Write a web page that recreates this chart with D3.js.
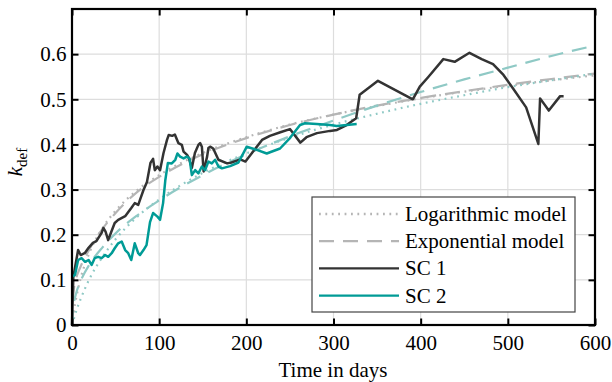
<!DOCTYPE html>
<html>
<head>
<meta charset="utf-8">
<script src="https://cdn.jsdelivr.net/npm/d3@7"></script>
<style>
  html, body { margin: 0; padding: 0; background: #fff; }
  svg { display: block; font-family: "Liberation Serif", "Times New Roman", serif; }
</style>
</head>
<body>
<svg id="chart" width="612" height="382"></svg>
<script>
// Measured creep factor k_def over time for two specimens (SC 1, SC 2)
const sc1Days = [0, 1.5, 7, 10, 15, 19, 24, 28, 34, 36, 38.5, 41.5, 45, 49, 53, 61, 68, 72, 76, 78,
  82, 86, 90, 93, 95, 98, 101, 105, 109, 111, 115, 118, 122, 126, 128, 132, 134, 137.5, 141, 145,
  147, 149, 151, 155, 156.5, 158.5, 162, 168, 178, 183, 189, 193, 199, 218, 227, 239, 250, 262, 269, 281,
  296, 304, 315, 326, 330, 351, 391, 399, 409, 426, 439, 456, 470, 483, 495, 506, 521, 535, 537, 547,
  560, 564];
const sc1Values = [0, 0.106, 0.166, 0.155, 0.16, 0.171, 0.182, 0.186, 0.204, 0.215,
  0.207, 0.188, 0.206, 0.226, 0.233, 0.241, 0.259, 0.27, 0.266, 0.277,
  0.299, 0.317, 0.359, 0.368, 0.343, 0.351, 0.343, 0.381, 0.41, 0.421,
  0.419, 0.422, 0.403, 0.399, 0.384, 0.377, 0.37, 0.348, 0.381, 0.399,
  0.403, 0.395, 0.34, 0.373, 0.392, 0.395, 0.391, 0.366, 0.358, 0.36,
  0.364, 0.367, 0.362, 0.41, 0.419, 0.427, 0.434, 0.404, 0.416, 0.425,
  0.43, 0.432, 0.443, 0.458, 0.51, 0.541, 0.5, 0.528, 0.55, 0.589,
  0.583, 0.603, 0.589, 0.578, 0.554, 0.524, 0.482, 0.401, 0.502, 0.475,
  0.507, 0.507];

const sc2Days = [0, 3.4, 7, 11, 15, 19, 22.5, 26, 30, 34,
  38, 41.5, 45.5, 49, 53, 57, 61, 64.5, 68, 72,
  76, 78, 82, 85.5, 89.5, 93, 98, 101, 104.5, 107, 110,
  114.5, 118.5, 121, 124, 128, 131.8, 134.8, 137.5, 141.3, 145,
  149, 152.7, 156.5, 160.4, 164.2, 168, 172, 181.4, 191, 200.5,
  212, 223.4, 238.7, 250, 261.6, 267.3, 280.7, 296, 303.7, 326.6];
const sc2Values = [0.107, 0.111, 0.144, 0.148, 0.14, 0.144, 0.133, 0.148, 0.151, 0.148,
  0.155, 0.151, 0.159, 0.17, 0.181, 0.185, 0.166, 0.159, 0.144, 0.181,
  0.159, 0.155, 0.166, 0.177, 0.228, 0.248, 0.24, 0.233, 0.27, 0.32, 0.359,
  0.358, 0.366, 0.38, 0.373, 0.369, 0.373, 0.369, 0.332, 0.343, 0.336,
  0.351, 0.343, 0.362, 0.358, 0.366, 0.351, 0.347, 0.352, 0.36, 0.395,
  0.388, 0.38, 0.391, 0.414, 0.443, 0.447, 0.445, 0.443, 0.441, 0.445];

// Fitted model curves, sampled at these days
const modelDays = [0, 1, 2, 5, 10, 20, 35, 50, 75, 100, 150, 200, 250, 300, 350, 400, 450, 500, 550, 600];
const logSc1 = [0, 0.015, 0.029, 0.062, 0.104, 0.16, 0.215, 0.253, 0.299, 0.332, 0.381, 0.416, 0.444, 0.466, 0.485, 0.502, 0.517, 0.53, 0.542, 0.553];
const expSc1 = [0, 0.06, 0.078, 0.105, 0.13, 0.168, 0.213, 0.248, 0.295, 0.328, 0.378, 0.414, 0.443, 0.466, 0.486, 0.503, 0.518, 0.532, 0.545, 0.557];
const logSc2 = [0, 0.007, 0.013, 0.032, 0.058, 0.102, 0.151, 0.19, 0.24, 0.278, 0.337, 0.38, 0.415, 0.444, 0.468, 0.49, 0.509, 0.527, 0.542, 0.557];
const expSc2 = [0, 0.035, 0.048, 0.072, 0.098, 0.134, 0.172, 0.203, 0.243, 0.276, 0.332, 0.378, 0.418, 0.453, 0.486, 0.516, 0.544, 0.57, 0.596, 0.619];

const xTicks = [0, 100, 200, 300, 400, 500, 600];
const yTicks = [0, 0.1, 0.2, 0.3, 0.4, 0.5, 0.6];
const legendLabels = ["Logarithmic model", "Exponential model", "SC 1", "SC 2"];

const C = {
  sc1: "#333333",
  sc2: "#009b96",
  gray: "#b5b5b5",
  tealLight: "#8fc9c5",
  grid: "#dddddd"
};
const FONT = 21;

const svg = d3.select("#chart");
const pLeft = 72, pRight = 595, pTop = 9, pBottom = 325;

const x = d3.scaleLinear().domain([0, 600]).range([pLeft, pRight]);
const y = d3.scaleLinear().domain([0, 0.7]).range([pBottom, pTop]);

// grid
const grid = svg.append("g");
grid.selectAll(".gx").data(xTicks.slice(1, -1)).enter().append("line")
  .attr("x1", d => x(d)).attr("x2", d => x(d)).attr("y1", pTop).attr("y2", pBottom)
  .attr("stroke", C.grid).attr("stroke-width", 1.2);
grid.selectAll(".gy").data(yTicks.slice(1)).enter().append("line")
  .attr("x1", pLeft).attr("x2", pRight).attr("y1", d => y(d)).attr("y2", d => y(d))
  .attr("stroke", C.grid).attr("stroke-width", 1.2);

const zip = (xs, ys) => xs.map((d, i) => [d, ys[i]]);
const smooth = d3.line().x(d => x(d[0])).y(d => y(d[1])).curve(d3.curveMonotoneX);
const straight = d3.line().x(d => x(d[0])).y(d => y(d[1]));

const plot = svg.append("g");
const DOT = "1.8,4.6", DASH = "15,9";

function drawLine(pts, gen, color, dash, width) {
  plot.append("path").attr("d", gen(pts)).attr("fill", "none")
    .attr("stroke", color).attr("stroke-width", width)
    .attr("stroke-dasharray", dash || null)
    .attr("stroke-linejoin", "round");
}

drawLine(zip(modelDays, logSc1), smooth, C.gray, DOT, 2.2);
drawLine(zip(modelDays, expSc1), smooth, C.gray, DASH, 2.2);
drawLine(zip(modelDays, logSc2), smooth, C.tealLight, DOT, 2.2);
drawLine(zip(modelDays, expSc2), smooth, C.tealLight, DASH, 2.2);
drawLine(zip(sc1Days, sc1Values), straight, C.sc1, null, 2.5);
drawLine(zip(sc2Days, sc2Values), straight, C.sc2, null, 2.5);

// axes with inward ticks on all four sides
const fmtY = d => d === 0 ? "0" : d3.format(".1f")(d);
const axB = svg.append("g").attr("transform", `translate(0,${pBottom})`)
  .call(d3.axisBottom(x).tickValues(xTicks).tickSizeInner(-6.5).tickSizeOuter(0).tickPadding(10.5));
const axT = svg.append("g").attr("transform", `translate(0,${pTop})`)
  .call(d3.axisTop(x).tickValues(xTicks).tickSizeInner(-6.5).tickSizeOuter(0).tickFormat(""));
const axL = svg.append("g").attr("transform", `translate(${pLeft},0)`)
  .call(d3.axisLeft(y).tickValues(yTicks).tickSizeInner(-6.5).tickSizeOuter(0).tickPadding(5.5).tickFormat(fmtY));
const axR = svg.append("g").attr("transform", `translate(${pRight},0)`)
  .call(d3.axisRight(y).tickValues(yTicks).tickSizeInner(-6.5).tickSizeOuter(0).tickFormat(""));

[axB, axT, axL, axR].forEach(g => {
  g.select(".domain").remove();
  g.selectAll(".tick line").attr("stroke", "#000").attr("stroke-width", 2);
  g.selectAll(".tick text").attr("fill", "#000").attr("font-size", FONT)
    .attr("font-family", "Liberation Serif, serif");
});

svg.append("rect").attr("x", pLeft).attr("y", pTop)
  .attr("width", pRight - pLeft).attr("height", pBottom - pTop)
  .attr("fill", "none").attr("stroke", "#000").attr("stroke-width", 2.2);

// axis titles
svg.append("text").attr("x", 333).attr("y", 377).attr("text-anchor", "middle")
  .attr("font-size", FONT).text("Time in days");

const yl = svg.append("text").attr("transform", "translate(22,162) rotate(-90)")
  .attr("text-anchor", "middle").attr("font-size", FONT);
yl.append("tspan").attr("font-style", "italic").text("k");
yl.append("tspan").attr("font-size", 15).attr("dy", 5).text("def");

// legend
const lg = svg.append("g");
lg.append("rect").attr("x", 312).attr("y", 197).attr("width", 263).attr("height", 115)
  .attr("fill", "#fff").attr("stroke", "#444").attr("stroke-width", 1.2);
const legendStyles = [
  { color: C.gray, dash: DOT },
  { color: C.gray, dash: DASH },
  { color: C.sc1, dash: null },
  { color: C.sc2, dash: null }
];
legendLabels.forEach((lab, i) => {
  const cy = 214 + i * 27.2;
  lg.append("line").attr("x1", 319).attr("x2", 399).attr("y1", cy).attr("y2", cy)
    .attr("stroke", legendStyles[i].color).attr("stroke-width", 2.3)
    .attr("stroke-dasharray", legendStyles[i].dash);
  lg.append("text").attr("x", 405).attr("y", cy + 7).attr("font-size", FONT).text(lab);
});
</script>
</body>
</html>
